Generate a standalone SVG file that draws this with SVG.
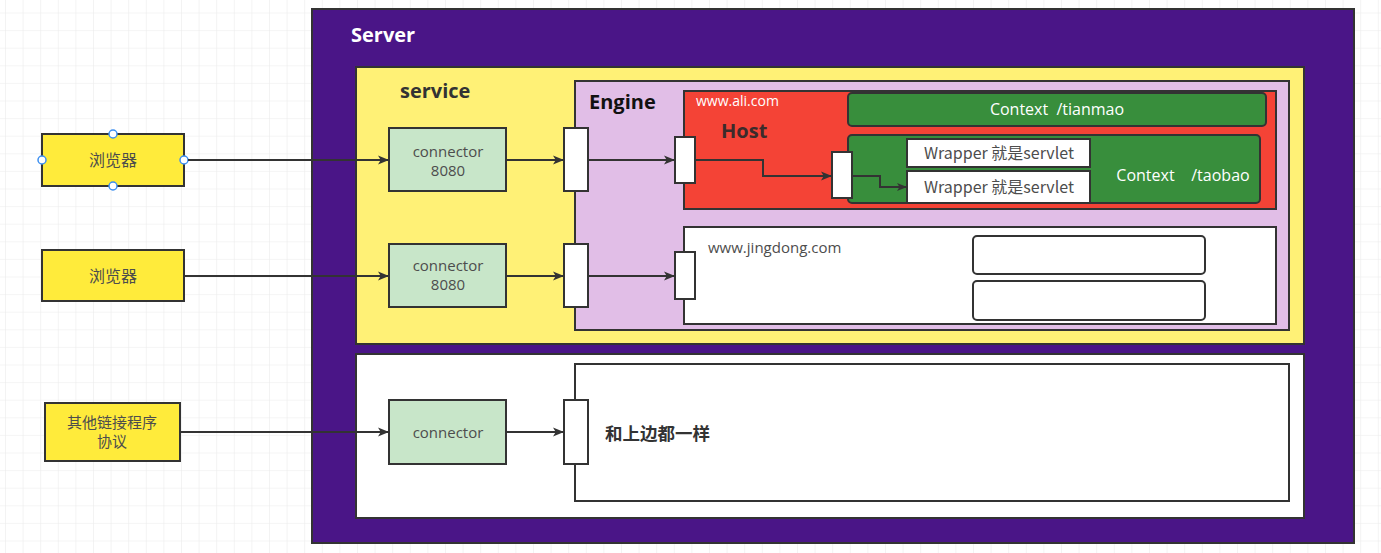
<svg xmlns="http://www.w3.org/2000/svg" width="1381" height="553" viewBox="0 0 1381 553">
<defs>
<pattern id="grid" x="5" y="12.5" width="17.6" height="17.6" patternUnits="userSpaceOnUse">
<path d="M0 0H17.6M0 0V17.6" fill="none" stroke="#ebebeb" stroke-width="1.2"/>
</pattern>
<marker id="arr" viewBox="0 0 10 10" refX="10" refY="5" markerWidth="11" markerHeight="11" markerUnits="userSpaceOnUse" orient="auto">
<path d="M0 1 L10 5 L0 9 L2.5 5 Z" fill="#333"/>
</marker>
<marker id="arrs" viewBox="0 0 10 10" refX="10" refY="5" markerWidth="10" markerHeight="10" markerUnits="userSpaceOnUse" orient="auto">
<path d="M0 1 L10 5 L0 9 L2.5 5 Z" fill="#333"/>
</marker>
</defs>
<style>
.bx{stroke:#333;stroke-width:2}
.t{font-family:"Open Sans","Noto Sans CJK SC",sans-serif;font-size:15px;fill:#4d4d4d}
.cn{font-family:"Noto Sans CJK SC","Open Sans",sans-serif;font-size:15px;fill:#4d4d4d}
.h{font-family:"Open Sans","Noto Sans CJK SC",sans-serif;font-size:20px;font-weight:bold}
.port{fill:#fff;stroke:#333;stroke-width:2}
.ln{fill:none;stroke:#333;stroke-width:2}
</style>
<rect width="1381" height="553" fill="#fff"/>
<rect width="1381" height="553" fill="url(#grid)"/>

<g id="server">
<rect class="bx" x="312" y="9" width="1042" height="534" fill="#4a1587"/>
<text class="h" x="351" y="42" fill="#fff">Server</text>
</g>

<g id="service">
<rect class="bx" x="356" y="67" width="948" height="277" fill="#fff176"/>
<text class="h" x="400" y="98" fill="#333">service</text>
</g>

<g id="engine">
<rect class="bx" x="575" y="81" width="714" height="249" fill="#e1bee7"/>
<text class="h" x="589" y="109" fill="#111">Engine</text>
</g>

<g id="host">
<rect class="bx" x="684" y="91" width="592" height="118" fill="#f44336"/>
<text class="t" x="696" y="106" style="fill:#fff;font-size:14px">www.ali.com</text>
<text class="h" x="721" y="138" fill="#3b2b2b">Host</text>
</g>

<g id="context-tianmao">
<rect class="bx" x="848" y="93" width="418" height="33" rx="4" fill="#388e3c"/>
<text class="t" x="1057" y="115" text-anchor="middle" style="fill:#fff;font-size:16px" xml:space="preserve">Context  /tianmao</text>
</g>

<g id="context-taobao">
<rect class="bx" x="848" y="135" width="412" height="68" rx="4" fill="#388e3c"/>
<text class="t" x="1183" y="181" text-anchor="middle" style="fill:#fff;font-size:16px" xml:space="preserve">Context    /taobao</text>
</g>

<g id="wrapper1">
<rect class="bx" x="907" y="139" width="183" height="28" fill="#fff"/>
<text class="cn" x="999" y="159" text-anchor="middle" style="font-size:16px">Wrapper 就是servlet</text>
</g>
<g id="wrapper2">
<rect class="bx" x="907" y="171" width="183" height="32" fill="#fff"/>
<text class="cn" x="999" y="193" text-anchor="middle" style="font-size:16px">Wrapper 就是servlet</text>
</g>

<g id="jingdong">
<rect class="bx" x="684" y="227" width="592" height="97" fill="#fff"/>
<text class="t" x="708" y="253">www.jingdong.com</text>
<rect class="bx" x="973" y="236" width="232" height="38" rx="4" fill="#fff"/>
<rect class="bx" x="973" y="281" width="232" height="39" rx="4" fill="#fff"/>
</g>

<g id="other-service">
<rect class="bx" x="356" y="354" width="948" height="164" fill="#fff"/>
<rect class="bx" x="575" y="364" width="714" height="137" fill="#fff"/>
<text class="cn" x="605" y="440" style="font-weight:bold;font-size:17.5px;fill:#333">和上边都一样</text>
</g>

<g id="browser1">
<rect class="bx" x="42" y="134" width="142" height="52" fill="#ffeb3b"/>
<text class="cn" x="113" y="166" text-anchor="middle" style="font-size:16px">浏览器</text>
<g fill="#fff" stroke="#3d8ff0" stroke-width="1.5">
<circle cx="113" cy="134" r="4"/>
<circle cx="113" cy="186" r="4"/>
<circle cx="42" cy="160" r="4"/>
<circle cx="184" cy="160" r="4"/>
</g>
</g>

<g id="browser2">
<rect class="bx" x="42" y="250" width="142" height="51" fill="#ffeb3b"/>
<text class="cn" x="113" y="282" text-anchor="middle" style="font-size:16px">浏览器</text>
</g>

<g id="other-client">
<rect class="bx" x="45" y="403" width="135" height="58" fill="#ffeb3b"/>
<text class="cn" x="112" y="428" text-anchor="middle">其他链接程序</text>
<text class="cn" x="112" y="447" text-anchor="middle">协议</text>
</g>

<g id="connector1">
<rect class="bx" x="389" y="128" width="117" height="63" fill="#c8e6c9"/>
<text class="t" x="448" y="157" text-anchor="middle">connector</text>
<text class="t" x="448" y="176" text-anchor="middle">8080</text>
</g>
<g id="connector2">
<rect class="bx" x="389" y="244" width="117" height="63" fill="#c8e6c9"/>
<text class="t" x="448" y="271" text-anchor="middle">connector</text>
<text class="t" x="448" y="290" text-anchor="middle">8080</text>
</g>
<g id="connector3">
<rect class="bx" x="389" y="400" width="117" height="64" fill="#c8e6c9"/>
<text class="t" x="448" y="438" text-anchor="middle">connector</text>
</g>

<g id="ports">
<rect class="port" x="564" y="128" width="24" height="63"/>
<rect class="port" x="564" y="244" width="24" height="63"/>
<rect class="port" x="564" y="400" width="24" height="64"/>
<rect class="port" x="675" y="137" width="20" height="46"/>
<rect class="port" x="675" y="252" width="20" height="47"/>
<rect class="port" x="832" y="152" width="20" height="46"/>
</g>

<g id="connectors">
<path class="ln" d="M188 160 H389" marker-end="url(#arr)"/>
<path class="ln" d="M506 160 H564" marker-end="url(#arr)"/>
<path class="ln" d="M588 160 H675" marker-end="url(#arr)"/>
<path class="ln" d="M695 160 H763 V176 H832" marker-end="url(#arr)"/>
<path class="ln" d="M852 176 H880 V187 H907" marker-end="url(#arrs)"/>
<path class="ln" d="M184 276 H389" marker-end="url(#arr)"/>
<path class="ln" d="M506 276 H564" marker-end="url(#arr)"/>
<path class="ln" d="M588 276 H675" marker-end="url(#arr)"/>
<path class="ln" d="M180 432 H389" marker-end="url(#arr)"/>
<path class="ln" d="M506 432 H564" marker-end="url(#arr)"/>
</g>
</svg>
